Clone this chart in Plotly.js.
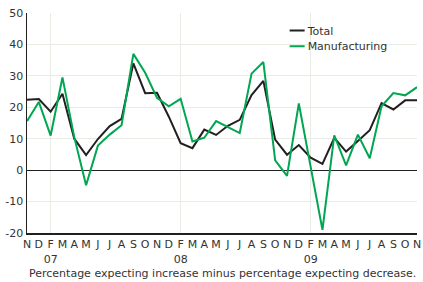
<!DOCTYPE html>
<html><head><meta charset="utf-8">
<script src="https://cdn.plot.ly/plotly-3.0.1.min.js"></script>
<style>html,body{margin:0;padding:0;background:#fff}</style>
</head><body><div id="chart" style="width:423px;height:282px"></div>
<script>
const months = ["N","D","F","M","A","M","J","J","A","S","O","N","D","F","M","A","M","J","J","A","S","O","N","D","F","M","A","M","J","J","A","S","O","N"];
const yearLabels = ["07","08","09"];
const yearIndex = [2,13,24];
const total = [22.4,22.6,18.6,24.3,10,4.8,9.9,14,16.3,34,24.5,24.6,17,8.6,7.0,12.9,11.2,14.1,16.0,23.9,28.4,9.7,4.9,8.0,4.0,2.0,10.3,5.9,9.3,12.7,21.3,19.3,22.2,22.2];
const manufacturing = [15.6,21.7,11,29.5,10.5,-4.8,7.8,11.3,14.3,37,31,23,20.3,22.7,9.1,10.3,15.6,13.7,11.8,30.7,34.4,3.1,-1.8,21.2,1,-19,11.1,1.5,11.3,3.8,20.3,24.5,23.8,26.4];
const yTicks = [-20,-10,0,10,20,30,40,50];
const yTickText = ["-20","-10","0","10","20","30","40","50"];
const caption = "Percentage expecting increase minus percentage expecting decrease.";

const idx = months.map((m,i)=>i);
const ticktext = months.map((m,i)=>{const k=yearIndex.indexOf(i); return k>=0 ? m+'<br>'+yearLabels[k] : m;});
const font = 'DejaVu Sans, Verdana, sans-serif';
const grid = '#e8ece4';

const traces = [
  {x: idx, y: total, type:'scatter', mode:'lines', name:'Total', line:{color:'#231f20', width:2}, legend:'legend'},
  {x: idx, y: manufacturing, type:'scatter', mode:'lines', name:'Manufacturing', line:{color:'#00a651', width:2}, legend:'legend2'},
  {x: [], y: [], xaxis:'x2', type:'scatter', showlegend:false, hoverinfo:'skip'}
];

const layout = {
  width:423, height:282,
  margin:{l:27, r:6, t:13, b:49},
  paper_bgcolor:'#fff', plot_bgcolor:'#fff',
  font:{family:font, size:11, color:'#333'},
  xaxis:{range:[0,33], tickmode:'array', tickvals:idx, ticktext:ticktext, tickangle:0, ticklabeloverflow:'allow', showgrid:false, zeroline:false,
         showline:true, linecolor:'#231f20', linewidth:2, ticks:'', tickfont:{size:11, color:'#333'}, fixedrange:true},
  xaxis2:{overlaying:'x', anchor:'y', side:'bottom', range:[0,33], tickmode:'array', tickvals:yearIndex,
          showticklabels:false, showgrid:true, gridcolor:grid, gridwidth:1, zeroline:false, showline:false, ticks:''},
  yaxis:{range:[-20,50], tickmode:'array', tickvals:yTicks, ticktext:yTickText, showgrid:true, gridcolor:grid, gridwidth:1,
         zeroline:true, zerolinecolor:'#231f20', zerolinewidth:1, showline:true, linecolor:'#231f20', linewidth:1.5,
         ticks:'', tickfont:{size:11, color:'#333'}, fixedrange:true},
  legend:{x:0.617, y:0.986, xanchor:'left', yanchor:'top', bgcolor:'rgba(0,0,0,0)', borderwidth:0, font:{size:11, color:'#333'}, itemwidth:30},
  legend2:{x:0.617, y:0.915, xanchor:'left', yanchor:'top', bgcolor:'rgba(0,0,0,0)', borderwidth:0, font:{size:11, color:'#333'}, itemwidth:30},
  shapes:[{type:'rect', xref:'paper', yref:'paper', x0:0.666, x1:0.948, y0:0.82, y1:0.965, layer:'between',
           fillcolor:'#fff', line:{width:0}}],
  annotations:[{text:caption, xref:'paper', yref:'paper', x:0, y:-0.182, xanchor:'left', yanchor:'middle', showarrow:false,
               font:{size:11, color:'#333'}}],
  showlegend:true
};

Plotly.newPlot('chart', traces, layout, {staticPlot:true, displayModeBar:false}).then(()=>{
  document.querySelectorAll('.legendlines path').forEach(p=>p.setAttribute('d','M22,0h15'));
});
</script>
</body></html>
